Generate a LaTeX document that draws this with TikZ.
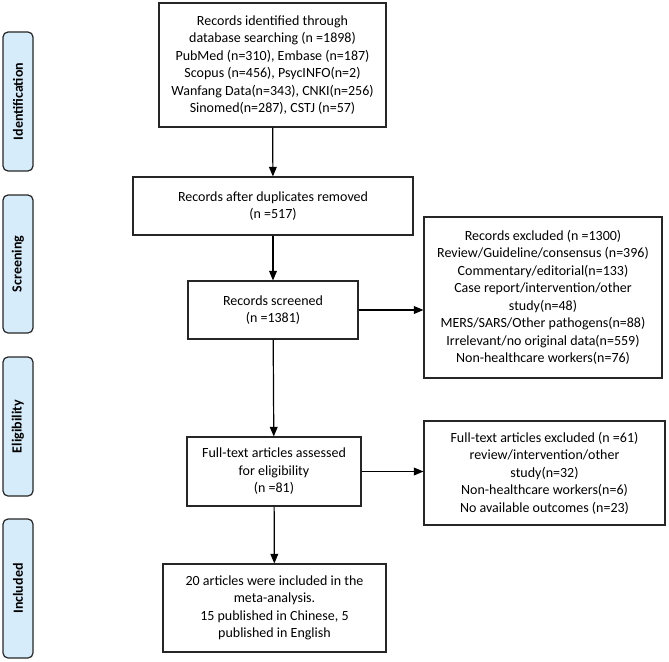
\documentclass[tikz,border=0pt]{standalone}
\usepackage{fontspec}
\setmainfont{Carlito}
\usepackage{tikz}
\usetikzlibrary{arrows}
\definecolor{stagefill}{RGB}{214,236,250}

\begin{document}
\begin{tikzpicture}[x=1pt,y=-1pt,>=triangle 45,
  box node/.style={rectangle,draw=black!85,line width=1.2pt,fill=white,align=center,inner sep=0pt,
    font=\fontsize{14}{17.5}\selectfont},
  stage node/.style={rectangle,rounded corners=5pt,draw=black!85,line width=1.2pt,fill=stagefill,
    minimum height=30pt,inner sep=0pt,rotate=90,font=\fontsize{14}{16}\selectfont\bfseries}]
  \useasboundingbox (0,0) rectangle (669,661);

  % stages
  \node[stage node,minimum width=139pt] (ident) at (18,101.5) {Identification};
  \node[stage node,minimum width=138pt] (screen) at (18,264) {Screening};
  \node[stage node,minimum width=139pt] (elig) at (18,426.5) {Eligibility};
  \node[stage node,minimum width=139pt] (incl) at (18,588.5) {Included};

  % flow
  \node[box node,minimum width=227pt,minimum height=124pt] (found) at (272.5,65)
    {Records identified through\\database searching (n =1898)\\PubMed (n=310), Embase (n=187)\\
     Scopus (n=456), PsycINFO(n=2)\\Wanfang Data(n=343), CNKI(n=256)\\Sinomed(n=287), CSTJ (n=57)};
  \node[box node,minimum width=280pt,minimum height=58pt] (dedup) at (273,206)
    {Records after duplicates removed\\(n =517)};
  \node[box node,minimum width=170pt,minimum height=58pt] (screened) at (273,310)
    {Records screened\\(n =1381)};
  \node[box node,minimum width=238pt,minimum height=161pt] (excl) at (543,297.5)
    {Records excluded (n =1300)\\Review/Guideline/consensus (n=396)\\Commentary/editorial(n=133)\\
     Case report/intervention/other\\study(n=48)\\MERS/SARS/Other pathogens(n=88)\\
     Irrelevant/no original data(n=559)\\Non-healthcare workers(n=76)};
  \node[box node,minimum width=174pt,minimum height=69pt] (fulltext) at (274,471.5)
    {Full-text articles assessed\\for eligibility\\(n =81)};
  \node[box node,minimum width=241pt,minimum height=104pt] (ftexcl) at (544.5,473)
    {Full-text articles excluded (n =61)\\review/intervention/other\\study(n=32)\\
     Non-healthcare workers(n=6)\\No available outcomes (n=23)};
  \node[box node,minimum width=223pt,minimum height=88pt] (final) at (274.5,608)
    {20 articles were included in the\\meta-analysis.\\15 published in Chinese, 5\\published in English};

  \path[->,line width=1.2pt]
    (found) edge (dedup)
    (dedup) edge (screened)
    (screened) edge (fulltext)
    (fulltext) edge (final)
    (screened.east) edge (screened.east -| excl.west)
    (fulltext.east) edge (fulltext.east -| ftexcl.west);
\end{tikzpicture}
\end{document}
